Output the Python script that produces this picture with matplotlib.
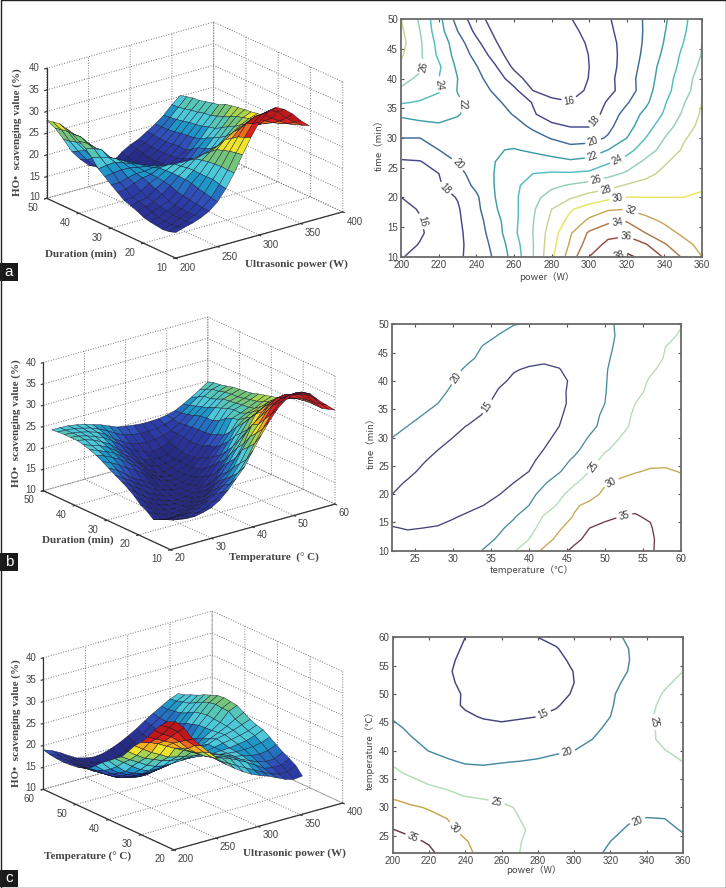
import matplotlib
matplotlib.use('Agg')
import numpy as np
import matplotlib.pyplot as plt
from matplotlib.colors import ListedColormap, BoundaryNorm
from matplotlib.patches import Rectangle
from mpl_toolkits.mplot3d import proj3d

W, H = 726, 888
SANS = ['Liberation Sans', 'DejaVu Sans']
CJK = ['Noto Sans CJK SC', 'DejaVu Sans']
SERIF = ['Liberation Serif', 'DejaVu Serif']
TXT = '#444444'

power = [200, 210, 220, 230, 240, 250, 260, 270, 280, 290, 300, 310, 320, 330, 340, 350, 360]
time_a = list(range(10, 51, 2))
z_a = [
    [15.9, 16.5, 17.0, 17.7, 18.7, 20.3, 22.8, 25.9, 29.6, 33.0, 36.0, 37.8, 38.4, 37.4, 35.8, 33.7, 32.0],
    [15.4, 16.1, 16.8, 17.6, 18.8, 20.6, 23.1, 25.9, 29.3, 32.3, 35.0, 36.5, 37.0, 36.2, 34.2, 32.7, 31.4],
    [15.2, 15.8, 16.7, 17.6, 19.0, 21.0, 23.6, 26.0, 29.0, 31.8, 34.3, 35.4, 35.6, 34.0, 32.8, 31.6, 30.9],
    [15.4, 15.9, 16.8, 17.7, 19.2, 21.3, 23.5, 25.9, 28.5, 30.7, 32.4, 33.6, 33.9, 32.7, 31.7, 31.0, 30.8],
    [15.6, 16.1, 17.0, 17.8, 19.5, 21.8, 23.5, 25.7, 28.0, 29.8, 31.0, 31.8, 32.0, 31.2, 30.9, 30.7, 30.6],
    [16.0, 16.6, 17.3, 18.1, 19.7, 22.0, 23.6, 25.4, 26.8, 27.8, 28.7, 29.5, 30.05, 30.0, 30.0, 30.0, 30.2],
    [16.7, 17.2, 17.8, 19.0, 20.4, 22.1, 23.5, 25.0, 25.6, 26.2, 26.8, 27.3, 28.2, 28.6, 29.0, 29.4, 29.8],
    [17.3, 17.7, 18.0, 19.5, 20.7, 22.1, 23.2, 24.0, 24.2, 24.2, 24.4, 25.4, 26.3, 27.5, 28.4, 29.0, 29.5],
    [17.8, 17.9, 18.9, 20.1, 20.9, 22.0, 23.0, 22.9, 22.7, 22.3, 22.6, 23.7, 24.8, 26.4, 27.8, 28.7, 29.3],
    [18.9, 19.2, 20.0, 20.7, 21.0, 21.9, 22.1, 21.7, 21.1, 20.6, 20.9, 22.0, 23.3, 25.0, 26.7, 28.2, 29.0],
    [20.0, 20.0, 20.6, 21.0, 21.0, 21.3, 21.2, 20.6, 19.9, 19.3, 19.3, 20.2, 22.0, 24.0, 26.0, 27.8, 28.8],
    [21.2, 21.5, 21.7, 21.6, 21.2, 20.9, 20.6, 19.7, 18.4, 17.9, 17.9, 19.5, 21.2, 23.2, 25.0, 27.0, 28.6],
    [22.3, 22.6, 22.8, 22.1, 21.4, 20.7, 19.9, 18.2, 17.1, 16.9, 16.9, 18.8, 20.8, 22.5, 24.2, 26.3, 28.3],
    [24.2, 23.8, 23.2, 22.3, 21.2, 20.4, 19.2, 17.9, 16.5, 16.1, 16.8, 18.2, 19.8, 21.6, 23.8, 25.8, 28.0],
    [25.7, 25.1, 24.2, 21.9, 20.9, 19.7, 18.5, 16.0, 15.2, 15.0, 16.4, 17.5, 18.8, 21.2, 23.3, 25.2, 27.2],
    [26.6, 25.6, 24.0, 22.0, 20.5, 19.1, 17.0, 14.9, 14.3, 14.4, 16.1, 17.4, 19.1, 21.0, 23.0, 25.1, 26.9],
    [27.6, 26.4, 24.3, 21.6, 20.1, 18.2, 15.6, 14.2, 13.3, 13.8, 16.0, 17.3, 18.8, 20.8, 22.8, 24.6, 26.5],
    [28.2, 26.3, 23.6, 21.2, 19.4, 17.1, 14.7, 13.5, 13.1, 14.0, 16.1, 17.3, 18.7, 20.5, 22.4, 24.4, 26.1],
    [28.6, 26.3, 23.3, 20.9, 18.5, 16.2, 14.4, 13.3, 13.0, 14.6, 16.4, 17.4, 18.7, 20.3, 22.1, 24.0, 26.0],
    [28.3, 26.0, 22.8, 20.0, 17.5, 15.6, 14.2, 13.4, 13.6, 15.4, 16.7, 17.6, 18.9, 20.2, 21.9, 23.7, 25.6],
    [28.0, 25.7, 22.6, 19.2, 16.9, 15.0, 14.0, 13.5, 14.2, 15.9, 17.0, 17.8, 19.0, 20.2, 21.7, 23.6, 25.2],
]

temp_b = list(range(22, 61, 2))
time_b = list(range(10, 51, 2))
z_b = [
    [16.5, 16.2, 16.2, 16.6, 17.2, 18.4, 20.2, 22.4, 24.6, 27.8, 30.8, 33.6, 36.0, 37.6, 38.4, 38.4, 37.4, 35.4, 33.7, 32.0],
    [15.7, 15.5, 15.5, 15.8, 16.3, 17.4, 18.9, 20.4, 22.5, 25.0, 28.3, 31.2, 34.0, 36.2, 37.3, 37.5, 37.0, 35.6, 33.4, 31.5],
    [15.1, 14.9, 15.0, 15.2, 15.7, 16.7, 18.0, 19.4, 21.0, 23.5, 26.7, 29.5, 32.2, 35.0, 36.0, 36.3, 36.2, 35.3, 33.0, 31.0],
    [14.4, 14.0, 14.0, 14.2, 14.8, 15.4, 16.6, 18.0, 19.7, 21.9, 25.4, 28.0, 30.3, 32.8, 34.2, 35.0, 35.2, 34.7, 32.8, 31.0],
    [13.8, 13.2, 13.0, 13.2, 13.7, 14.4, 15.0, 16.8, 18.6, 20.0, 22.8, 25.6, 29.5, 30.9, 32.8, 34.2, 34.5, 34.0, 32.5, 31.0],
    [15.0, 13.9, 13.2, 12.9, 13.0, 13.5, 14.1, 14.8, 16.7, 18.9, 21.2, 24.0, 26.8, 28.6, 30.8, 32.4, 32.8, 32.6, 31.9, 30.8],
    [15.8, 14.7, 13.7, 13.0, 12.8, 12.9, 13.3, 13.9, 15.0, 17.0, 19.6, 22.0, 24.6, 26.5, 29.6, 30.7, 31.2, 31.3, 31.2, 30.6],
    [17.2, 15.7, 14.5, 13.5, 13.0, 12.7, 12.8, 13.0, 13.9, 15.0, 17.4, 19.7, 22.4, 25.0, 27.8, 28.9, 29.8, 30.3, 30.3, 29.9],
    [18.3, 16.8, 15.3, 14.2, 13.3, 12.7, 12.4, 12.6, 13.0, 14.2, 16.0, 18.6, 20.6, 23.6, 26.0, 27.0, 28.0, 29.2, 29.4, 28.9],
    [19.2, 17.9, 16.6, 15.1, 14.1, 13.2, 12.7, 12.5, 12.7, 13.4, 15.0, 17.0, 19.0, 21.6, 24.5, 26.0, 27.0, 27.7, 28.4, 28.7],
    [20.0, 18.8, 17.6, 16.2, 15.0, 14.0, 13.3, 12.8, 12.7, 13.0, 14.2, 15.8, 18.0, 20.3, 22.7, 25.0, 26.0, 26.6, 27.6, 28.3],
    [20.9, 20.0, 18.6, 17.0, 16.0, 14.8, 13.7, 13.1, 12.7, 12.8, 13.6, 15.0, 16.9, 18.9, 21.2, 24.6, 25.3, 26.1, 27.0, 27.9],
    [21.8, 21.0, 20.0, 18.7, 17.6, 16.3, 14.8, 13.7, 13.0, 12.9, 13.4, 14.6, 16.3, 18.6, 20.7, 23.9, 25.4, 26.0, 26.7, 27.5],
    [22.6, 21.9, 21.0, 20.0, 18.7, 17.3, 15.6, 14.1, 13.2, 13.0, 13.4, 14.4, 15.7, 17.8, 20.0, 22.7, 25.0, 25.7, 26.3, 27.0],
    [23.2, 22.5, 21.7, 20.8, 19.4, 17.9, 16.7, 14.7, 13.6, 13.2, 13.6, 14.6, 15.5, 17.5, 19.8, 22.0, 24.4, 25.5, 26.0, 26.7],
    [23.7, 23.0, 22.4, 21.5, 20.1, 18.7, 17.4, 15.6, 14.5, 13.8, 13.9, 14.4, 15.5, 17.5, 19.7, 21.9, 23.8, 25.3, 25.9, 26.5],
    [24.0, 23.6, 23.0, 22.1, 21.0, 19.3, 18.1, 16.6, 15.2, 14.7, 14.5, 14.9, 16.0, 17.8, 19.6, 21.7, 23.1, 24.6, 25.7, 26.3],
    [24.0, 23.8, 23.3, 22.6, 21.8, 20.6, 19.2, 17.7, 16.6, 15.8, 15.5, 15.7, 16.6, 17.9, 19.4, 21.1, 22.6, 24.0, 25.2, 25.9],
    [24.0, 23.8, 23.5, 23.0, 22.4, 21.4, 19.8, 18.7, 17.6, 17.1, 16.8, 17.0, 17.3, 18.0, 19.2, 20.7, 22.1, 23.9, 25.0, 25.5],
    [23.9, 23.8, 23.6, 23.2, 22.7, 21.9, 21.0, 19.9, 18.9, 18.5, 18.2, 18.2, 18.3, 18.7, 19.4, 20.3, 21.6, 23.0, 24.3, 25.3],
    [23.7, 23.7, 23.6, 23.3, 22.9, 22.3, 21.7, 20.9, 20.1, 19.8, 19.5, 19.3, 19.3, 19.4, 19.7, 20.2, 21.2, 22.3, 23.5, 24.8],
]

temp_c = list(range(22, 61, 2))
z_c = [
    [38.5, 38.0, 36.0, 33.0, 30.9, 28.8, 26.8, 25.0, 23.6, 22.3, 21.2, 20.4, 19.7, 18.8, 17.9, 17.4, 17.6],
    [37.0, 36.0, 34.5, 32.0, 30.3, 28.3, 26.6, 25.1, 24.1, 23.0, 22.0, 21.0, 20.0, 19.0, 18.4, 18.4, 19.3],
    [35.2, 33.8, 32.7, 31.0, 28.9, 27.4, 26.1, 25.2, 24.6, 23.9, 23.0, 22.0, 20.8, 19.6, 19.2, 19.3, 20.2],
    [33.0, 32.0, 31.0, 30.0, 28.3, 27.1, 25.9, 25.0, 24.3, 23.7, 23.0, 22.0, 21.2, 20.4, 19.9, 20.0, 21.0],
    [31.1, 30.5, 29.7, 28.6, 27.6, 26.6, 25.7, 24.6, 24.0, 23.5, 22.8, 22.0, 21.6, 21.1, 20.9, 21.2, 22.0],
    [29.6, 28.3, 27.0, 26.0, 24.9, 24.4, 24.0, 23.6, 23.0, 22.7, 22.3, 22.0, 21.8, 21.8, 21.9, 22.3, 23.0],
    [27.6, 26.2, 25.0, 24.2, 23.4, 22.9, 22.6, 22.4, 22.1, 22.0, 21.8, 21.9, 22.0, 22.3, 22.6, 23.2, 24.0],
    [25.7, 24.5, 23.4, 22.2, 21.4, 21.0, 21.0, 21.1, 21.1, 21.3, 21.6, 22.0, 22.4, 22.7, 23.1, 23.6, 24.4],
    [24.6, 23.2, 21.8, 20.5, 19.7, 19.6, 19.9, 20.1, 20.4, 20.8, 21.4, 22.0, 22.7, 23.1, 23.6, 24.3, 25.0],
    [23.4, 21.6, 19.9, 19.0, 18.4, 18.2, 18.3, 18.6, 19.0, 19.6, 20.0, 21.0, 22.0, 22.9, 23.8, 24.9, 25.9],
    [22.3, 20.3, 18.9, 18.0, 17.3, 17.0, 17.0, 17.3, 17.8, 18.7, 19.2, 20.0, 21.5, 22.7, 24.0, 26.0, 26.8],
    [20.9, 19.3, 18.0, 17.0, 16.3, 15.8, 15.6, 16.0, 16.4, 17.0, 18.0, 19.2, 20.7, 22.6, 24.1, 26.0, 27.0],
    [19.6, 18.6, 17.2, 16.1, 15.4, 14.8, 14.5, 14.7, 15.0, 15.7, 16.8, 18.0, 20.0, 22.5, 24.3, 26.2, 27.2],
    [19.0, 18.1, 16.9, 15.8, 14.7, 14.2, 13.8, 13.7, 14.0, 14.7, 16.1, 17.7, 19.6, 22.0, 24.0, 25.9, 27.0],
    [18.6, 17.8, 16.6, 15.6, 14.8, 13.8, 13.2, 13.0, 13.3, 14.0, 15.3, 17.4, 19.4, 21.6, 23.6, 25.3, 26.4],
    [18.4, 17.7, 16.5, 15.4, 14.5, 13.5, 12.9, 12.7, 13.0, 13.8, 15.0, 17.0, 18.9, 20.8, 22.7, 24.5, 25.8],
    [18.3, 17.6, 16.4, 15.3, 14.2, 13.4, 12.8, 12.6, 13.0, 13.6, 15.1, 16.8, 18.3, 20.1, 22.0, 23.7, 25.0],
    [18.4, 17.7, 16.6, 15.5, 14.4, 13.6, 13.0, 12.9, 13.3, 14.2, 15.6, 17.0, 18.5, 19.9, 21.7, 23.3, 24.4],
    [18.6, 17.9, 16.9, 15.8, 14.7, 14.0, 13.5, 13.4, 13.8, 14.8, 16.2, 17.4, 18.8, 20.0, 21.4, 22.8, 23.7],
    [19.0, 18.3, 17.3, 16.1, 15.0, 14.5, 14.2, 14.4, 15.0, 15.8, 16.8, 17.9, 19.2, 20.4, 21.5, 22.6, 23.3],
]

levels_a = [16, 18, 20, 22, 24, 26, 28, 30, 32, 34, 36, 38]
levels_bc = [15, 20, 25, 30, 35]
colors_a = ['#4a4a86', '#47478f', '#3f6a96', '#3f9fa8', '#52bcc0', '#96d0b4', '#c6d68e',
            '#e6e662', '#c8a858', '#b07848', '#984c40', '#703434']
colors_bc = ['#44447e', '#4a8aa0', '#b4dcb8', '#c4a850', '#6e3848']
labels_a = [(289.5, 36.2), (302.9, 32.9), (302.3, 29.2), (302.3, 26.6), (315.8, 25.8), (303.7, 22.8), (309, 21.2),
            (315.3, 19.4), (321.8, 17.5), (315, 15.4), (319.7, 13), (316, 10.3),
            (212, 42), (220, 39), (233.7, 35.6), (230.5, 25.7), (225.4, 22.2), (213.3, 16.2)]
labels_b = [(30.7, 40.3), (34.3, 35.7), (48.7, 24.6), (51, 21.6), (52.5, 16.6)]
labels_c = [(283, 46.4), (296.3, 39.6), (257, 30.5), (235.5, 26.6), (211.6, 25), (345.4, 45.1), (335, 27.6)]

band_edges = [10, 15, 17, 18.5, 19.5, 20.5, 22, 24, 25.5, 27, 28.5, 30, 31.5, 33, 35, 40]
band_colors = ['#262b85', '#2a3296', '#2c3ca6', '#2f50b8', '#2570c0', '#1f96c8', '#4cc8d8', '#56c6b6',
               '#74c47c', '#a8d450', '#eee42a', '#f5b020', '#ee6a1c', '#d8201c', '#c01818']
band_cmap = ListedColormap(band_colors)
norm = BoundaryNorm(band_edges, len(band_colors))

fig = plt.figure(figsize=(W / 100, H / 100), dpi=100, facecolor='white')


def put(px_x, px_y, s, **kw):
    fig.text(px_x / W, 1 - px_y / H, s, ha='center', va='center', **kw)


def surface(xv, yv, zv, xlim, ylim, xticks, yticks, left, right, xlab, ylab, zlabpos, xlabpos, ylabpos, xoff):
    ax = fig.add_axes([0.05, 0.05, 0.4, 0.4 * W / H], projection='3d', proj_type='ortho', facecolor='none')
    ax.patch.set_alpha(0)
    ax.view_init(elev=21, azim=-127.7)
    ax.set_box_aspect((1, 1, 0.66))
    ax.set_xlim(*xlim, view_margin=0)
    ax.set_ylim(*ylim, view_margin=0)
    ax.set_zlim(10, 40, view_margin=0)
    X, Y = np.meshgrid(xv, yv)
    Z = np.array(zv)
    ax.plot_surface(X, Y, Z, facecolors=band_cmap(norm(Z)), edgecolor='#15152a', linewidth=0.3,
                    rstride=1, cstride=1, shade=False, antialiased=True)
    zticks = [10, 15, 20, 25, 30, 35, 40]
    ax.set_xticks(xticks)
    ax.set_yticks(yticks)
    ax.set_zticks(zticks)
    for axis in (ax.xaxis, ax.yaxis, ax.zaxis):
        axis.set_pane_color((1, 1, 1, 0))
        axis.pane.set_edgecolor((1, 1, 1, 0))
        axis.line.set_color('#333333')
        axis.line.set_linewidth(0.9)
        axis._axinfo['grid'].update(color='#777777', linestyle=':', linewidth=0.7)
        axis._axinfo['tick'].update(inward_factor=0.15, outward_factor=0.0)
        axis.set_tick_params(labelsize=1, labelcolor=(1, 1, 1, 0), pad=0, color='#333333')

    def px(x, y, z):
        xs, ys, _ = proj3d.proj_transform(x, y, z, ax.get_proj())
        p = ax.transData.transform((xs, ys))
        return np.array([p[0], H - p[1]])

    ax.apply_aspect()
    pl = px(xlim[0], ylim[1], 10)
    pr = px(xlim[1], ylim[0], 10)
    s0 = ax.get_position().width * W
    s = s0 * (right[0] - left[0]) / (pr[0] - pl[0])
    ax.set_position([0.05, 0.05, s / W, s / H])
    ax.apply_aspect()
    pl = px(xlim[0], ylim[1], 10)
    pos = ax.get_position()
    ax.set_position([pos.x0 + (left[0] - pl[0]) / W, pos.y0 - (left[1] - pl[1]) / H, pos.width, pos.height])
    ax.apply_aspect()
    tick_style = dict(fontsize=7, family=SANS, color=TXT)
    for v in xticks:
        p = px(v, ylim[0], 10)
        put(p[0] + xoff[0], p[1] + xoff[1], str(v), **tick_style)
    for v in yticks:
        p = px(xlim[0], v, 10)
        put(p[0] - 14, p[1] + 9.5, str(v), **tick_style)
    for v in zticks:
        p = px(xlim[0], ylim[1], v)
        put(p[0] - 12.3, p[1] - (1 if v == 10 else 0), str(v), **tick_style)
    lab_style = dict(fontsize=8, fontweight='bold', family=SERIF, color=TXT)
    put(*zlabpos, 'HO•  scavenging value (%)', rotation=90, **lab_style)
    put(*xlabpos, xlab, **lab_style)
    put(*ylabpos, ylab, **lab_style)
    return ax


def contour(box, xv, yv, zv, levels, colors, xlim, ylim, xticks, yticks, xlab, ylab, xlabpos, ylabpos, manual, lw):
    x0, y0, x1, y1 = box
    ax = fig.add_axes([x0 / W, 1 - y1 / H, (x1 - x0) / W, (y1 - y0) / H])
    cs = ax.contour(xv, yv, np.array(zv), levels=levels, colors=colors, linewidths=lw)
    lab = ax.clabel(cs, fontsize=7, fmt='%d', manual=manual, inline=True, inline_spacing=2)
    for t in lab:
        t.set_color('#3a3a3a')
        t.set_fontfamily(SANS)
    ax.set_xlim(*xlim)
    ax.set_ylim(*ylim)
    ax.set_xticks(xticks)
    ax.set_yticks(yticks)
    ax.tick_params(direction='in', top=True, right=True, length=2.5, width=0.8, color='#555555',
                   labelsize=7, labelcolor=TXT, pad=2.5)
    for t in ax.get_xticklabels() + ax.get_yticklabels():
        t.set_fontfamily(SANS)
    for s in ax.spines.values():
        s.set_color('#6a6a6a')
        s.set_linewidth(1.3)
    put(*xlabpos, xlab, fontsize=6.8, family=CJK, color=TXT)
    put(*ylabpos, ylab, fontsize=6.8, family=CJK, color=TXT, rotation=90)
    return ax


surface(power, time_a, z_a, (200, 400), (10, 50), [200, 250, 300, 350, 400], [10, 20, 30, 40, 50],
        (46.7, 198.3), (342.7, 210.7),
        'Ultrasonic power (W)', 'Duration (min)', (17, 132), (296, 264.5), (81, 254.5), (12, 10))
surface(temp_b, time_b, z_b, (20, 60), (10, 50), [20, 30, 40, 50, 60], [10, 20, 30, 40, 50],
        (43.3, 490.7), (335, 505),
        'Temperature  (° C)', 'Duration (min)', (16, 423), (274, 557.5), (78, 540), (9, 8.5))
surface(power, temp_c, z_c, (200, 400), (20, 60), [200, 250, 300, 350, 400], [20, 30, 40, 50, 60],
        (43.3, 789.3), (342.7, 804),
        'Ultrasonic power (W)', 'Temperature (° C)', (16, 723), (294, 853), (88, 856.5), (12, 9))

contour((401.3, 19.3, 702, 256.7), power, time_a, z_a, levels_a, colors_a, (200, 360), (10, 50),
        list(range(200, 361, 20)), list(range(10, 51, 5)), 'power（W）', 'time（min）',
        (547, 277), (378, 143), labels_a, 1.05)
contour((392.3, 324.3, 680.7, 550.7), temp_b, time_b, z_b, levels_bc, colors_bc, (22, 60), (10, 50),
        list(range(25, 61, 5)), list(range(10, 51, 5)), 'temperature（℃）', 'time（min）',
        (532, 570), (370, 441), labels_b, 0.95)
contour((392.7, 637.3, 683, 852.7), power, temp_c, z_c, levels_bc, colors_bc, (200, 360), (22, 60),
        list(range(200, 361, 20)), list(range(25, 61, 5)), 'power（W）', 'temperature（℃）',
        (534, 870), (370, 748), labels_c, 1.05)

overlay = fig.add_axes([0, 0, 1, 1], facecolor='none')
overlay.set_xlim(0, W)
overlay.set_ylim(H, 0)
overlay.axis('off')
for letter, y0, y1 in (('a', 263, 281), ('b', 553, 571), ('c', 870, 887)):
    overlay.add_patch(Rectangle((0, y0), 18, y1 - y0, color='#1a1a1a', lw=0))
    overlay.text(9, (y0 + y1) / 2 - 0.5, letter, color='white', fontsize=11, ha='center', va='center', family=SANS)
overlay.add_patch(Rectangle((0.5, 0.5), W - 1, H - 1, fill=False, ec='#222222', lw=1))

fig.savefig('out.png', dpi=100, facecolor='white')
